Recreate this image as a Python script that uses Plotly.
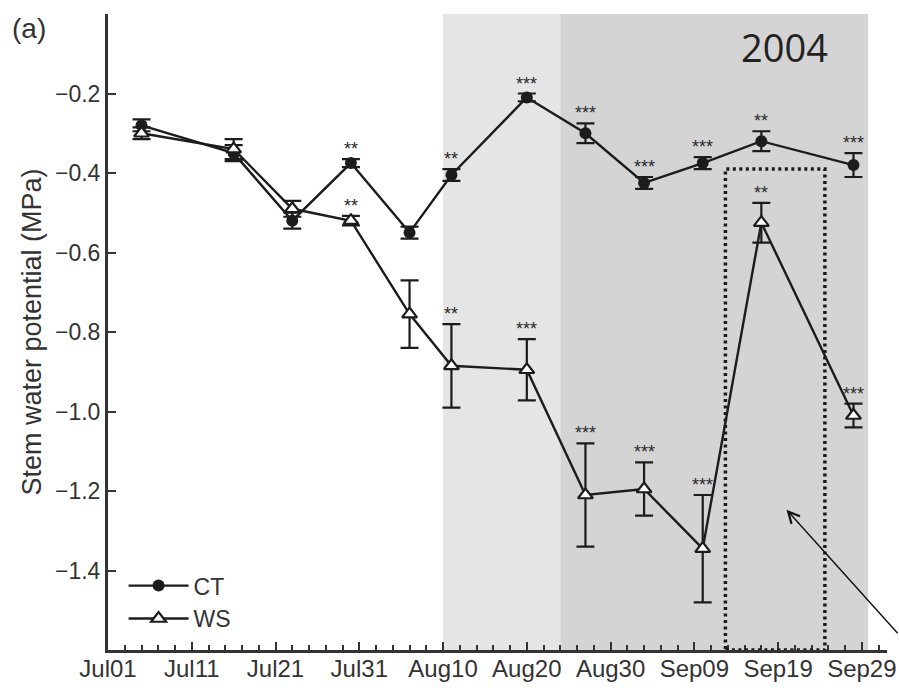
import plotly.graph_objects as go

# Sampling dates (2004)
dates = ["2004-07-05", "2004-07-16", "2004-07-23", "2004-07-30", "2004-08-06", "2004-08-11",
         "2004-08-20", "2004-08-27", "2004-09-03", "2004-09-10", "2004-09-17", "2004-09-28"]

# Stem water potential (MPa), mean and error
ct_mean = [-0.28, -0.35, -0.52, -0.375, -0.55, -0.405, -0.21, -0.30, -0.425, -0.375, -0.32, -0.38]
ct_err = [0.015, 0.02, 0.02, 0.01, 0.015, 0.015, 0.01, 0.025, 0.015, 0.015, 0.025, 0.03]
ws_mean = [-0.30, -0.34, -0.49, -0.52, -0.755, -0.885, -0.895, -1.21, -1.195, -1.345, -0.525, -1.01]
ws_err = [0.015, 0.025, 0.02, 0.012, 0.085, 0.105, 0.077, 0.13, 0.067, 0.135, 0.05, 0.03]

# Significance marks per date
ct_sig = ["", "", "", "**", "", "**", "***", "***", "***", "***", "**", "***"]
ws_sig = ["", "", "", "**", "", "**", "***", "***", "***", "***", "**", "***"]

# Shaded periods and highlighted window
light_period = ["2004-08-10", "2004-08-24"]
dark_period = ["2004-08-24", "2004-09-29 18:00"]
box_period = ["2004-09-12 17:00", "2004-09-24 14:00"]
box_top = -0.39

INK = "#1c1c1c"
AXIS = "#333333"
FONT = "Liberation Sans, Arial, sans-serif"

fig = go.Figure()

fig.add_trace(go.Scatter(
    x=dates, y=ct_mean, name="CT", mode="lines+markers",
    line=dict(color=INK, width=2.4),
    marker=dict(symbol="circle", size=12, color=INK),
    error_y=dict(type="data", array=ct_err, color=INK, thickness=2.2, width=9),
))
fig.add_trace(go.Scatter(
    x=dates, y=ws_mean, name="WS", mode="lines+markers",
    line=dict(color=INK, width=2.4),
    marker=dict(symbol="triangle-up", size=13, color="white", line=dict(color=INK, width=2.2)),
    error_y=dict(type="data", array=ws_err, color=INK, thickness=2.2, width=9),
))

shapes = [
    dict(type="rect", xref="x", yref="y", x0=light_period[0], x1=light_period[1],
         y0=-1.6, y1=0, fillcolor="#e5e5e5", line=dict(width=0), layer="below"),
    dict(type="rect", xref="x", yref="y", x0=dark_period[0], x1=dark_period[1],
         y0=-1.6, y1=0, fillcolor="#d4d4d4", line=dict(width=0), layer="below"),
    dict(type="rect", xref="x", yref="y", x0=box_period[0], x1=box_period[1],
         y0=-1.6, y1=box_top, line=dict(color=INK, width=3.5, dash="3px,3.5px"), layer="above"),
]

annotations = []
for d, m, e, s in list(zip(dates, ct_mean, ct_err, ct_sig)) + list(zip(dates, ws_mean, ws_err, ws_sig)):
    if s:
        annotations.append(dict(x=d, y=m + e, text=s, showarrow=False, yanchor="bottom",
                                yshift=-2, font=dict(family=FONT, size=18, color="#2a2a2a")))

annotations += [
    dict(xref="paper", yref="paper", x=-0.126, y=0.977, xanchor="left", yanchor="middle",
         text="(a)", showarrow=False, font=dict(family=FONT, size=28, color="#333")),
    dict(xref="paper", yref="paper", x=0.869, y=0.948, xanchor="center", yanchor="middle",
         text="2004", showarrow=False, font=dict(family="Open Sans, sans-serif", size=38, color="#222")),
    dict(x="2004-09-20", y=-1.247, ax=118, ay=125, axref="pixel", ayref="pixel",
         text="", showarrow=True, arrowhead=5, arrowsize=1.6, arrowwidth=1.4, arrowcolor="#111"),
]

fig.update_layout(
    width=899, height=692,
    margin=dict(l=108, r=12, t=14, b=42),
    paper_bgcolor="white", plot_bgcolor="white",
    font=dict(family=FONT, size=24, color="#333"),
    shapes=shapes, annotations=annotations,
    showlegend=True,
    legend=dict(x=0.02, y=0.135, xanchor="left", yanchor="top", bgcolor="rgba(0,0,0,0)",
                font=dict(family=FONT, size=23, color="#333"), itemwidth=60, tracegroupgap=0),
    xaxis=dict(
        type="date", range=["2004-07-01", "2004-10-02"], automargin=False,
        tick0="2004-07-01", dtick=10 * 86400000, tickformat="%b%d",
        ticks="inside", ticklen=8, tickwidth=2, tickcolor=AXIS,
        minor=dict(dtick=2 * 86400000, tick0="2004-07-01", ticks="inside", ticklen=5,
                   tickwidth=2, tickcolor=AXIS, showgrid=False),
        showline=True, linecolor=AXIS, linewidth=3, showgrid=False, zeroline=False,
        tickfont=dict(size=24), ticklabelstandoff=-5,
    ),
    yaxis=dict(
        range=[-1.6, 0], automargin=False,
        tickvals=[-1.4, -1.2, -1.0, -0.8, -0.6, -0.4, -0.2],
        ticktext=["\u22121.4", "\u22121.2", "\u22121.0", "\u22120.8", "\u22120.6", "\u22120.4", "\u22120.2"],
        ticks="inside", ticklen=8, tickwidth=2, tickcolor=AXIS,
        showline=True, linecolor=AXIS, linewidth=3, showgrid=False, zeroline=False,
        title=dict(text="Stem water potential (MPa)", font=dict(size=27), standoff=6),
        tickfont=dict(size=23),
    ),
)

fig.write_html("out.html")
